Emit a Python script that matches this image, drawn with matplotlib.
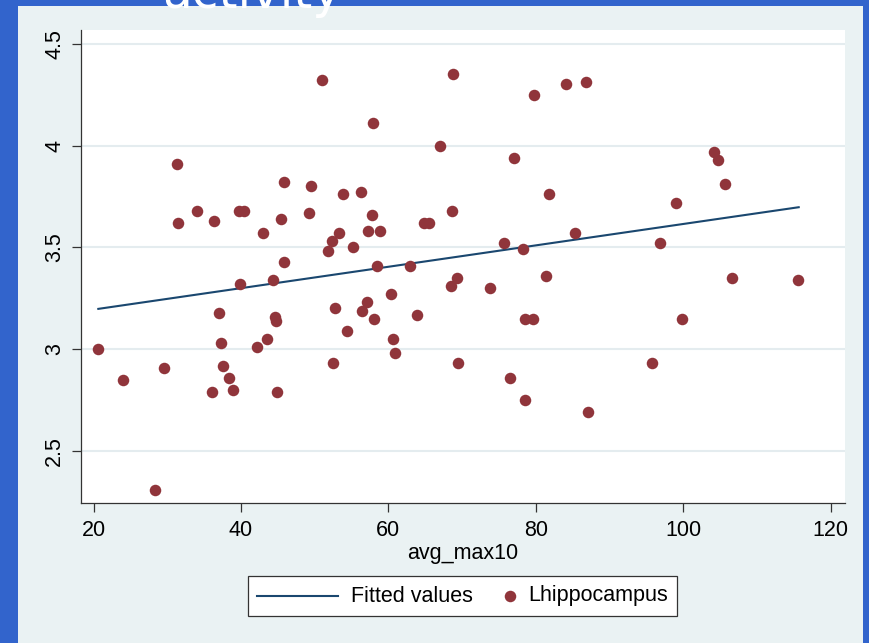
import matplotlib
matplotlib.use("Agg")
import matplotlib.pyplot as plt
from matplotlib.patches import Rectangle
from matplotlib.lines import Line2D
from matplotlib.offsetbox import DrawingArea, TextArea, HPacker, AnchoredOffsetbox

plt.rcParams['font.family'] = ['Liberation Sans', 'DejaVu Sans']

# ---------------- data ----------------
avg_max10 = [20.65, 24.04, 29.52, 28.38, 31.33, 31.42, 34.04, 36.35, 36.08, 37.07,
             37.30, 37.53, 38.42, 38.88, 39.78, 40.42, 39.88, 42.14, 43.00, 43.50,
             44.31, 44.66, 44.76, 44.89, 45.44, 45.84, 45.89, 49.51, 49.28, 51.04,
             51.85, 52.32, 52.53, 52.76, 53.31, 53.89, 54.43, 55.21, 56.29, 56.43,
             57.06, 57.28, 57.82, 57.92, 58.01, 58.39, 58.87, 60.36, 60.63, 60.86,
             62.94, 63.89, 64.88, 65.52, 67.05, 68.73, 68.60, 68.46, 69.27, 69.45,
             73.79, 75.69, 77.09, 76.51, 78.20, 78.58, 78.58, 79.59, 79.80, 81.35,
             81.84, 84.06, 85.32, 86.86, 87.09, 95.77, 99.03, 99.80, 96.86, 104.18,
             104.68, 105.71, 106.62, 115.54]
lhippocampus = [3.00, 2.85, 2.91, 2.31, 3.91, 3.62, 3.68, 3.63, 2.79, 3.18,
                3.03, 2.92, 2.86, 2.80, 3.68, 3.68, 3.32, 3.01, 3.57, 3.05,
                3.34, 3.16, 3.14, 2.79, 3.64, 3.43, 3.82, 3.80, 3.67, 4.32,
                3.48, 3.53, 2.93, 3.20, 3.57, 3.76, 3.09, 3.50, 3.77, 3.19,
                3.23, 3.58, 3.66, 4.11, 3.15, 3.41, 3.58, 3.27, 3.05, 2.98,
                3.41, 3.17, 3.62, 3.62, 4.00, 4.35, 3.68, 3.31, 3.35, 2.93,
                3.30, 3.52, 3.94, 2.86, 3.49, 3.15, 2.75, 3.15, 4.25, 3.36,
                3.76, 4.30, 3.57, 4.31, 2.69, 2.93, 3.72, 3.15, 3.52, 3.97,
                3.93, 3.81, 3.35, 3.34]
fit_x = [20.65, 115.67]
fit_y = [3.198, 3.697]

xticks = [20, 40, 60, 80, 100, 120]
xtick_labels = ['20', '40', '60', '80', '100', '120']
yticks = [2.5, 3, 3.5, 4, 4.5]
ytick_labels = ['2.5', '3', '3.5', '4', '4.5']

# ---------------- style ----------------
W, H = 869, 643
frame_blue = '#3264CC'
panel_col = '#EAF2F3'
grid_col = '#E4ECEF'
line_col = '#1A476F'
dot_col = '#90353B'
axis_col = '#333333'
fs = 15.5

fig = plt.figure(figsize=(W / 100, H / 100), dpi=100)
fig.patch.set_facecolor(frame_blue)
fig.add_artist(Rectangle((18 / W, 0), (863 - 18) / W, 1 - 6.3 / H,
                         transform=fig.transFigure, facecolor=panel_col,
                         edgecolor='none', zorder=-5))

fig.text(161.7 / W, 1 - 8 / H, 'activity', color='white', fontsize=35,
         family='DejaVu Sans', ha='left', va='baseline', zorder=5)

ax = fig.add_axes([81 / W, 1 - 503 / H, (845 - 81) / W, (503 - 30) / H])
ax.set_facecolor('white')
ax.set_xlim(18.30, 121.95)
ax.set_ylim(2.245, 4.567)

ax.plot(fit_x, fit_y, color=line_col, lw=1.5, zorder=3)
ax.plot(avg_max10, lhippocampus, ls='none', marker='o', ms=8.3, mew=0,
        color=dot_col, zorder=4)

for s in ['top', 'right']:
    ax.spines[s].set_visible(False)
for s in ['left', 'bottom']:
    ax.spines[s].set_color(axis_col)
    ax.spines[s].set_linewidth(0.9)

ax.set_xticks(xticks, labels=xtick_labels)
ax.set_yticks(yticks, labels=ytick_labels)
ax.tick_params(axis='both', length=6.5, width=0.9, color=axis_col,
               labelsize=fs)
ax.tick_params(axis='x', pad=6)
ax.tick_params(axis='y', pad=5)
for lab in ax.get_yticklabels():
    lab.set_rotation(90)
    lab.set_va('center')
ax.yaxis.grid(True, color=grid_col, lw=1.5)
ax.set_axisbelow(True)
ax.set_xlabel('avg_max10', fontsize=fs, labelpad=1)

# ---------------- legend ----------------
pt = 72 / 100
h = 16 * pt
da1 = DrawingArea(94 * pt, h, 0, 0)
da1.add_artist(Line2D([0, 81 * pt], [h / 2, h / 2], color=line_col, lw=1.5))
ta1 = TextArea('Fitted values', textprops=dict(size=fs, color='black'))
da2 = DrawingArea(55.7 * pt, h, 0, 0)
da2.add_artist(Line2D([37 * pt], [h / 2], marker='o', ms=8.3, mew=0,
                      color=dot_col, ls='none'))
ta2 = TextArea('Lhippocampus', textprops=dict(size=fs, color='black'))
box = HPacker(children=[da1, ta1, da2, ta2], align='center', pad=0, sep=0)
anch = AnchoredOffsetbox(loc='center', child=box, pad=0.42, borderpad=0,
                         frameon=True, prop=dict(size=fs),
                         bbox_to_anchor=(462.5 / W, 1 - 596 / H),
                         bbox_transform=fig.transFigure)
anch.patch.set_facecolor('white')
anch.patch.set_edgecolor(axis_col)
anch.patch.set_linewidth(0.9)
fig.add_artist(anch)

fig.savefig('out.png', dpi=100, facecolor=fig.get_facecolor())
